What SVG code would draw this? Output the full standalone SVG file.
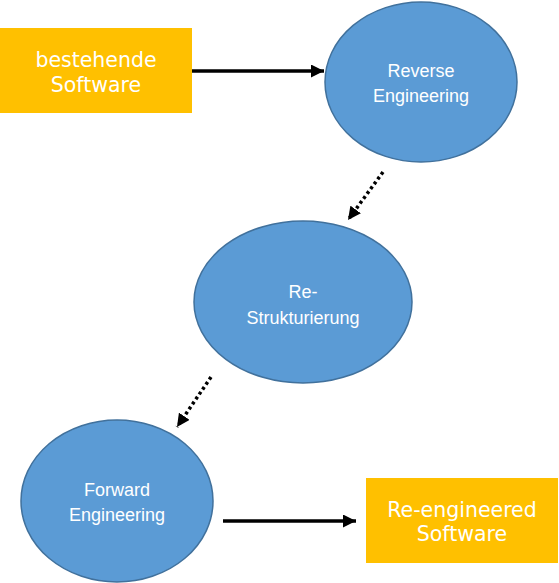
<svg xmlns="http://www.w3.org/2000/svg" width="559" height="583" viewBox="0 0 559 583">
<style>
.box{fill:#FFC000;stroke:none}
.ell{fill:#5B9BD5;stroke:#41719C;stroke-width:1.5}
.bt{font-family:"DejaVu Sans",Verdana,sans-serif;font-size:20.5px;fill:#FFFFFF;text-anchor:middle}
.et{font-family:"Liberation Sans",Arial,sans-serif;font-size:18px;fill:#FFFFFF;text-anchor:middle}
.solid{stroke:#000;stroke-width:3.5;fill:none}
.dot{stroke:#000;stroke-width:3.5;fill:none;stroke-dasharray:3 3}
</style>
<defs>
<marker id="ah" markerUnits="userSpaceOnUse" markerWidth="14" markerHeight="13" refX="13" refY="6.5" orient="auto" viewBox="0 0 14 13">
<path d="M0,0 L13,6.5 L0,13 z" fill="#000" stroke="none"/>
</marker>
</defs>
<rect width="559" height="583" fill="#FFFFFF"/>
<g id="connectors">
<line class="solid" x1="192" y1="71" x2="324" y2="71" marker-end="url(#ah)"/>
<line class="dot" x1="383" y1="172" x2="348" y2="220" marker-end="url(#ah)"/>
<line class="dot" x1="211" y1="377" x2="177" y2="427" marker-end="url(#ah)"/>
<line class="solid" x1="223" y1="521" x2="356" y2="521" marker-end="url(#ah)"/>
</g>
<g id="bestehende-software">
<rect class="box" x="0" y="28" width="192" height="85"/>
<text class="bt" x="96" y="67">bestehende</text>
<text class="bt" x="96" y="92">Software</text>
</g>
<g id="reverse-engineering">
<ellipse class="ell" cx="421" cy="82" rx="96" ry="80"/>
<text class="et" x="421" y="77">Reverse</text>
<text class="et" x="421" y="102">Engineering</text>
</g>
<g id="re-strukturierung">
<ellipse class="ell" cx="303" cy="302" rx="109" ry="81"/>
<text class="et" x="303" y="298">Re-</text>
<text class="et" x="303" y="324">Strukturierung</text>
</g>
<g id="forward-engineering">
<ellipse class="ell" cx="117" cy="501" rx="96" ry="81"/>
<text class="et" x="117" y="496">Forward</text>
<text class="et" x="117" y="521">Engineering</text>
</g>
<g id="re-engineered-software">
<rect class="box" x="366" y="478" width="192" height="85"/>
<text class="bt" x="462" y="517">Re-engineered</text>
<text class="bt" x="462" y="541">Software</text>
</g>
</svg>
